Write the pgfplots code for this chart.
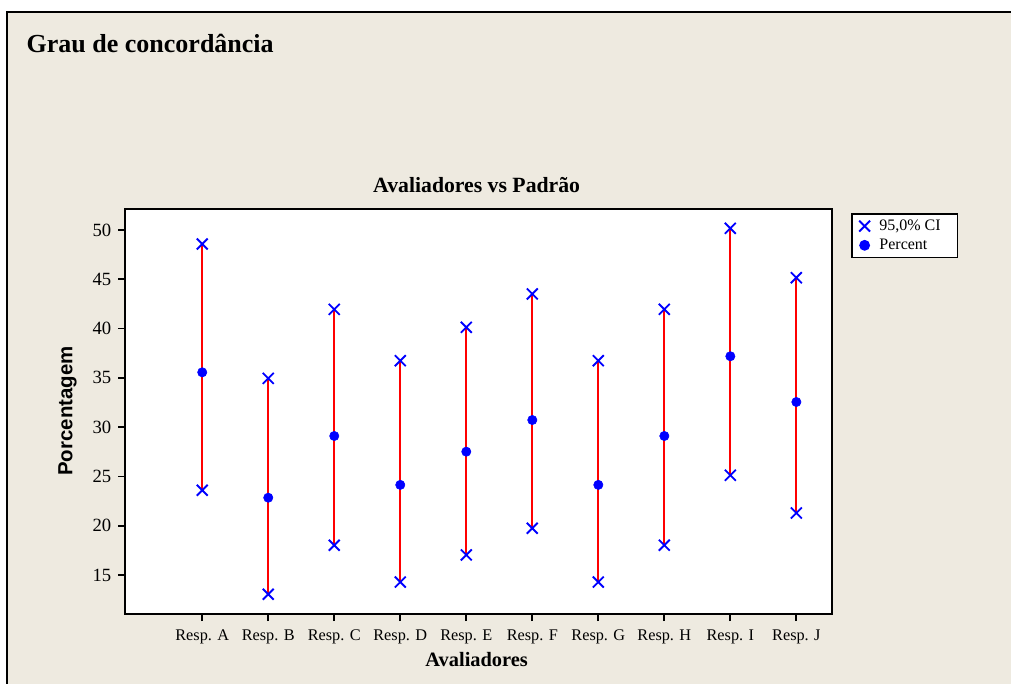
\documentclass[border=0pt]{standalone}
\usepackage{pgfplots}
\pgfplotsset{compat=1.18}
\usepackage{pgfplotstable}
\usepackage{fontspec}
\setmainfont{Liberation Serif}
\newfontfamily\arialfont{Liberation Sans}
\definecolor{bgbeige}{RGB}{238,234,224}
\definecolor{mblue}{RGB}{0,0,255}
\definecolor{mred}{RGB}{255,0,0}

\pgfplotstableread{
x lo mean hi
0 23.60 35.56 48.58
1 13.04 22.84 34.95
2 18.02 29.10 41.95
3 14.28 24.14 36.74
4 17.03 27.51 40.13
5 19.74 30.72 43.51
6 14.28 24.14 36.74
7 18.02 29.10 41.95
8 25.12 37.19 50.17
9 21.29 32.55 45.16
}\data

\begin{document}
\begin{tikzpicture}
\useasboundingbox (0,0) rectangle (758.25pt,-513pt);
\fill[white] (0,0) rectangle (758.25pt,-513pt);
\fill[bgbeige] (5.6pt,-9pt) rectangle (758.25pt,-513pt);
\draw[line width=1.5pt] (5.6pt,-513pt) -- (5.6pt,-9pt) -- (758.25pt,-9pt);

\node[anchor=base west, font=\fontsize{19.5}{22}\selectfont\bfseries] at (16.5pt,-39.75pt) {Grau de concordância};
\node[anchor=base, font=\fontsize{16.3}{19}\selectfont\bfseries] at (357.5pt,-144.2pt) {Avaliadores vs Padrão};
\node[anchor=base, font=\fontsize{15.3}{18}\selectfont\bfseries] at (357.5pt,-499.5pt) {Avaliadores};
\node[rotate=90, anchor=center, font=\fontsize{15.3}{18}\selectfont\arialfont\bfseries] at (50.6pt,-308.25pt) {Porcentagem};

\begin{axis}[
  at={(93.75pt,-460.5pt)}, anchor=south west,
  scale only axis, width=530.25pt, height=303.75pt,
  xmin=-1.17, xmax=9.54, ymin=11.04, ymax=52.13,
  axis background/.style={fill=white},
  axis line style={line width=1.4pt, black},
  xtick={0,1,2,3,4,5,6,7,8,9},
  xticklabels={Resp. A,Resp. B,Resp. C,Resp. D,Resp. E,Resp. F,Resp. G,Resp. H,Resp. I,Resp. J},
  ytick={15,20,25,30,35,40,45,50},
  tick align=outside, tick pos=left,
  major tick length=5.25pt,
  tick style={black, line width=1.3pt},
  /pgf/number format/assume math mode=true,
  yticklabel style={font=\fontsize{14}{16}\selectfont, xshift=-1.5pt},
  xticklabel style={font=\fontsize{12.2}{14}\selectfont, yshift=-3pt},
  legend style={at={(1.027,0.990)}, anchor=north west, draw=black, line width=1.1pt, fill=white,
    font=\fontsize{12}{14}\selectfont, inner xsep=5.5pt, inner ysep=3.5pt, row sep=3pt, column sep=6pt,
    nodes={inner sep=1pt}},
  legend cell align=left,
]
\addplot[forget plot, draw=none, mark=none,
  error bars/.cd, y dir=both, y explicit, error mark=none,
  error bar style={mred, line width=1.4pt}]
  table[x=x, y=mean, y error plus expr=\thisrow{hi}-\thisrow{mean}, y error minus expr=\thisrow{mean}-\thisrow{lo}] {\data};
\addplot[only marks, mark=x, mark size=5.8pt, mblue, mark options={line width=1.4pt}] table[x=x, y=hi] {\data};
\addlegendentry{95,0\% CI\kern 6pt\null}
\addplot[forget plot, only marks, mark=x, mark size=5.8pt, mblue, mark options={line width=1.4pt}] table[x=x, y=lo] {\data};
\addplot[only marks, mark=*, mark size=3.5pt, mblue] table[x=x, y=mean] {\data};
\addlegendentry{Percent}
\end{axis}
\end{tikzpicture}
\end{document}
